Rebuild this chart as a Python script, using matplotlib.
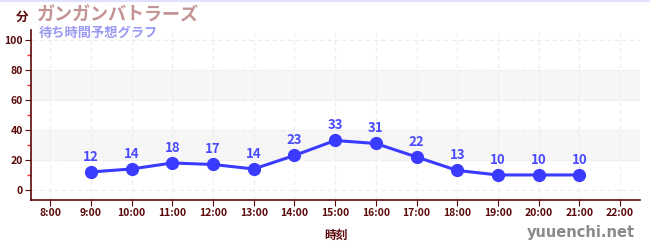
import matplotlib
matplotlib.use("Agg")
import matplotlib.pyplot as plt
from matplotlib.ticker import MultipleLocator

plt.rcParams['font.family'] = ['Noto Sans CJK JP', 'DejaVu Sans']

# data
hours = [9, 10, 11, 12, 13, 14, 15, 16, 17, 18, 19, 20, 21]
waits = [12, 14, 18, 17, 14, 23, 33, 31, 22, 13, 10, 10, 10]
tick_hours = list(range(8, 23))
tick_labels = [f"{h}:00" for h in tick_hours]
y_ticks = [0, 20, 40, 60, 80, 100]
bands = [(20, 40), (60, 80)]

axis_col = '#5a0a0a'
line_col = '#3b3bff'

fig = plt.figure(figsize=(6.5, 2.5), dpi=100)
ax = fig.add_axes([0.0477, 0.2, 0.937, 0.68])

for lo, hi in bands:
    ax.axhspan(lo, hi, color='#f6f6f6', zorder=0)

ax.plot(hours, waits, color=line_col, lw=2.2, marker='o', ms=8.5, zorder=3)
for h, w in zip(hours, waits):
    ax.annotate(str(w), (h, w), xytext=(0, 6), textcoords='offset points',
                ha='center', va='bottom', color='#4a4aff', fontsize=9.5,
                fontweight='bold')

ax.set_xlim(7.53, 22.49)
ax.set_ylim(-6.7, 106.7)
ax.set_xticks(tick_hours)
ax.set_xticklabels(tick_labels)
ax.set_yticks(y_ticks)
ax.yaxis.set_minor_locator(MultipleLocator(10))
ax.tick_params(axis='y', which='minor', length=3, color='#ff2020', width=1)
ax.tick_params(axis='both', which='major', length=4, color=axis_col,
               labelcolor=axis_col, labelsize=7.5, pad=2)
for lab in ax.get_xticklabels() + ax.get_yticklabels():
    lab.set_fontweight('bold')

ax.grid(True, which='major', color='#ececec', ls=(0, (4, 3)), lw=0.8)
ax.set_axisbelow(True)
for s in ['top', 'right']:
    ax.spines[s].set_visible(False)
for s in ['left', 'bottom']:
    ax.spines[s].set_color(axis_col)
    ax.spines[s].set_linewidth(1.2)

ax.set_xlabel('時刻', color=axis_col, fontsize=8.5, fontweight='bold', labelpad=8)

fig.text(0.025, 0.932, '分', color=axis_col, fontsize=9, fontweight='bold',
         ha='left', va='center')
fig.text(0.056, 0.938, 'ガンガンバトラーズ', color='#c49494', fontsize=13,
         fontweight='bold', ha='left', va='center')
fig.text(0.06, 0.87, '待ち時間予想グラフ', color='#9a9af5', fontsize=9.5,
         fontweight='bold', ha='left', va='center')
fig.text(0.977, 0.07, 'yuuenchi.net', color='#8a8a8a', fontsize=10.5,
         fontweight='bold', ha='right', va='center', family=['DejaVu Sans'])

# thin lavender strip along the top edge
fig.add_artist(plt.Line2D([0, 1], [0.996, 0.996], color='#e0e0ff', lw=1.5,
                          transform=fig.transFigure))

fig.savefig('out.png', dpi=100)
